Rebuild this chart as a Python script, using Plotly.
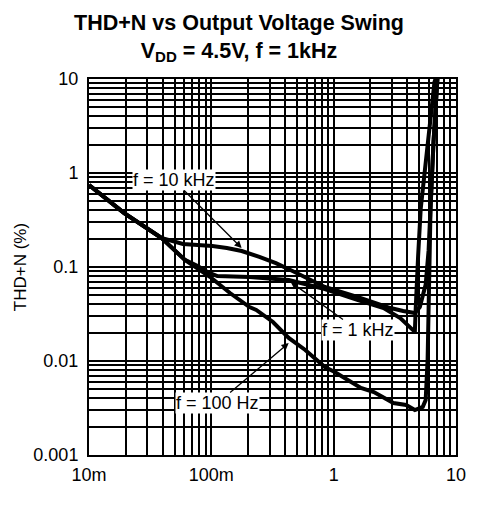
import plotly.graph_objects as go
import math

# ---- data (output voltage swing in V, THD+N in %) ----
v_10k = [0.01, 0.0194, 0.039, 0.0461, 0.0586, 0.0773, 0.102, 0.134, 0.177, 0.247,
         0.337, 0.461, 0.586, 0.847, 1.56, 2.91, 3.70, 4.61, 5.06, 5.65, 5.97,
         6.19, 6.55, 7.05]
thd_10k = [0.745, 0.375, 0.204, 0.194, 0.176, 0.171, 0.167, 0.159, 0.148, 0.128,
           0.110, 0.0906, 0.0783, 0.0613, 0.048, 0.0366, 0.034, 0.0324, 0.0375,
           0.065, 0.15, 0.42, 2.14, 10]

v_1k = [0.01, 0.0194, 0.039, 0.0608, 0.0773, 0.0929, 0.112, 0.205, 0.429, 0.586,
        0.847, 1.56, 2.56, 3.50, 4.61, 4.68, 4.78, 4.90, 5.15, 5.86, 6.67, 6.8]
thd_1k = [0.745, 0.375, 0.204, 0.119, 0.1026, 0.0885, 0.0801, 0.0783, 0.0728,
          0.0659, 0.0583, 0.0446, 0.0366, 0.0286, 0.0204, 0.035, 0.08, 0.13,
          0.42, 2.14, 9.3, 10]

v_100 = [0.01, 0.0194, 0.039, 0.0608, 0.098, 0.142, 0.205, 0.233, 0.319, 0.429,
         0.586, 0.847, 1.02, 1.22, 1.67, 2.13, 2.56, 3.08, 3.91, 4.61, 5.35,
         5.65, 5.86, 6.08, 6.08, 6.19, 6.55, 7.05]
thd_100 = [0.745, 0.375, 0.204, 0.119, 0.0783, 0.0529, 0.0375, 0.0349, 0.026,
           0.0176, 0.0131, 0.00863, 0.00764, 0.00659, 0.00516, 0.00468, 0.00414,
           0.00357, 0.0034, 0.00301, 0.00325, 0.00385, 0.0103, 0.0529, 0.119,
           0.42, 2.14, 10]

x_tickvals = [0.01, 0.1, 1, 10]
x_ticktext = ["10m", "100m", "1", "10"]
y_tickvals = [0.001, 0.01, 0.1, 1, 10]
y_ticktext = ["0.001", "0.01", "0.1", "1", "10"]

# labels: (text, arrow-tip voltage, arrow-tip THD, text offset px)
labels = [
    ("f = 10 kHz", 0.177, 0.159, -68, -68),
    ("f = 1 kHz", 0.445, 0.0692, 67, 48),
    ("f = 100 Hz", 0.429, 0.0155, -71, 60),
]

FONT = "Liberation Sans"

fig = go.Figure()
for xs, ys in [(v_100, thd_100), (v_1k, thd_1k), (v_10k, thd_10k)]:
    fig.add_trace(go.Scatter(x=xs, y=ys, mode="lines",
                             line=dict(color="black", width=4),
                             showlegend=False, hoverinfo="skip"))

def minor_vals(lo, hi):
    out = []
    for e in range(lo, hi):
        for d in range(2, 10):
            out.append(d * 10.0 ** e)
    return out

axis_common = dict(
    type="log",
    showline=True, linecolor="black", linewidth=2, mirror=True,
    showgrid=True, gridcolor="black", gridwidth=1.8,
    ticks="", zeroline=False,
    tickfont=dict(family=FONT, size=18, color="black"),
)

fig.update_xaxes(range=[-2, 1], tickvals=x_tickvals, ticktext=x_ticktext,
                 ticklabelstandoff=2,
                 minor=dict(tickvals=minor_vals(-2, 1), showgrid=True,
                            gridcolor="black", gridwidth=1.5),
                 **axis_common)
fig.update_yaxes(range=[-3, 1], tickvals=y_tickvals, ticktext=y_ticktext,
                 ticklabelstandoff=5,
                 minor=dict(tickvals=minor_vals(-3, 1), showgrid=True,
                            gridcolor="black", gridwidth=1.5),
                 title=dict(text="THD+N (%)", font=dict(family=FONT, size=17, color="black"),
                            standoff=2),
                 **axis_common)

for text, vx, vy, ax, ay in labels:
    fig.add_annotation(x=math.log10(vx), y=math.log10(vy), xref="x", yref="y",
                       text=text, showarrow=True, ax=ax, ay=ay,
                       arrowhead=2, arrowsize=1.1, arrowwidth=1.3, arrowcolor="black",
                       bgcolor="white", borderpad=0,
                       font=dict(family=FONT, size=18, color="black"))

fig.update_layout(
    width=478, height=509,
    margin=dict(l=89, r=14, t=79, b=54),
    paper_bgcolor="white", plot_bgcolor="white",
    title=dict(text="<b>THD+N vs Output Voltage Swing<br>V<sub>DD</sub> = 4.5V, f = 1kHz</b>",
               x=0.5, xanchor="center", xref="container",
               y=1 - 30 / 509, yanchor="middle", yref="container",
               font=dict(family=FONT, size=21.5, color="black")),
)

fig.write_html("out.html", config={"displayModeBar": False},
               post_script="document.body.style.margin='0px';document.body.style.overflow='hidden';")
